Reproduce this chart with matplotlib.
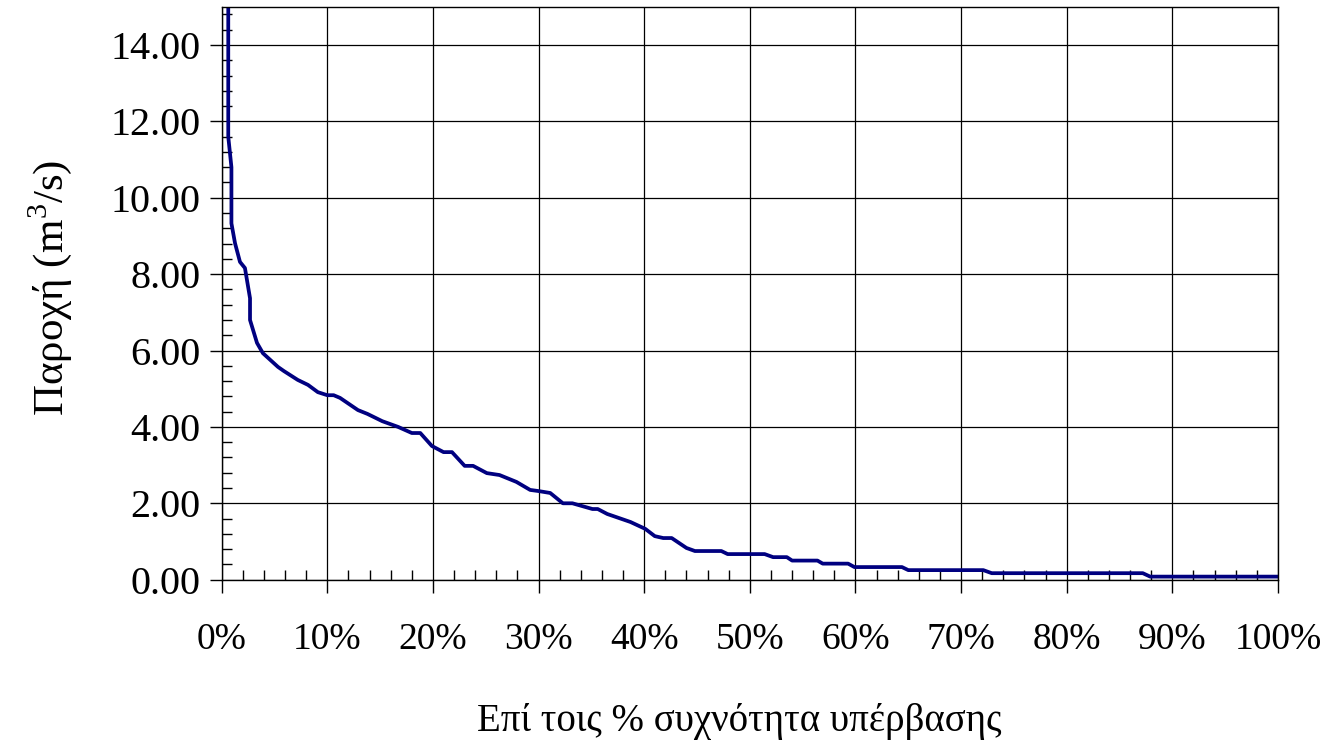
import numpy as np
import matplotlib
matplotlib.use('Agg')
import matplotlib.pyplot as plt
from matplotlib.ticker import MultipleLocator, PercentFormatter

plt.rcParams['font.family'] = ['Liberation Serif', 'DejaVu Serif']
plt.rcParams['mathtext.fontset'] = 'custom'
plt.rcParams['mathtext.rm'] = 'Liberation Serif'

# flow duration curve: exceedance frequency (%) and discharge (m3/s)
exceedance = [0.62, 0.62, 0.92, 0.92, 1.26, 1.73, 2.2, 2.68, 2.68, 3.34,
              3.9, 5.33, 5.9, 7.2, 8.17, 9.1, 10.0, 10.6, 11.2, 12.9,
              13.8, 15.2, 16.7, 18.0, 18.8, 19.9, 21.0, 21.8, 23.0, 23.8,
              25.1, 26.3, 27.9, 29.2, 30.0, 31.1, 32.3, 33.2, 35.1, 35.6,
              36.5, 38.7, 40.1, 41.0, 41.8, 42.6, 44.0, 44.8, 47.3, 47.9,
              51.4, 52.2, 53.5, 54.0, 56.4, 56.9, 59.3, 59.9, 64.4, 65.0,
              72.1, 72.9, 87.2, 87.9, 100.0]
discharge = [16.0, 11.6, 10.8, 9.33, 8.81, 8.32, 8.16, 7.37, 6.8, 6.2,
             5.93, 5.57, 5.46, 5.23, 5.1, 4.91, 4.83, 4.83, 4.76, 4.44,
             4.34, 4.15, 4.0, 3.84, 3.84, 3.5, 3.34, 3.34, 2.98, 2.98,
             2.79, 2.74, 2.56, 2.35, 2.32, 2.27, 2.0, 2.0, 1.85, 1.85,
             1.72, 1.51, 1.33, 1.14, 1.09, 1.09, 0.83, 0.75, 0.75, 0.67,
             0.67, 0.59, 0.59, 0.50, 0.50, 0.42, 0.42, 0.33, 0.33, 0.25,
             0.25, 0.17, 0.17, 0.08, 0.08]

fig = plt.figure(figsize=(13.26, 7.47), dpi=100)
ax = fig.add_axes([0.1672, 0.2240, 0.7966, 0.7669])

ax.plot(exceedance, discharge, color='#000080', lw=2.7, solid_joinstyle='round')

ax.set_xlim(0, 100)
ax.set_ylim(0, 15)

ax.xaxis.set_major_locator(MultipleLocator(10))
ax.xaxis.set_minor_locator(MultipleLocator(2))
ax.yaxis.set_major_locator(MultipleLocator(2))
ax.yaxis.set_minor_locator(MultipleLocator(0.4))
ax.xaxis.set_major_formatter(PercentFormatter(decimals=0))
ax.yaxis.set_major_formatter(matplotlib.ticker.FormatStrFormatter('%.2f'))

ax.grid(True, which='major', color='black', lw=0.9)
ax.set_axisbelow(True)
for s in ax.spines.values():
    s.set_color('black')
    s.set_linewidth(1.0)

ax.tick_params(axis='x', which='major', direction='out', length=9, width=1,
               pad=22, labelsize=27)
ax.tick_params(axis='y', which='major', direction='out', length=9, width=1,
               pad=6, labelsize=29)
ax.tick_params(which='minor', direction='in', length=7, width=1)

ax.set_xlabel('Επί τοις % συχνότητα υπέρβασης', fontsize=28)
ax.xaxis.label.set_va('center')
ax.xaxis.set_label_coords(0.49, -0.248)
ax.set_ylabel('Παροχή (m$^{3}$/s)', fontsize=31)
ax.yaxis.label.set_va('center')
ax.yaxis.set_label_coords(-0.1626, 0.51)

fig.savefig('out.png', dpi=100)
